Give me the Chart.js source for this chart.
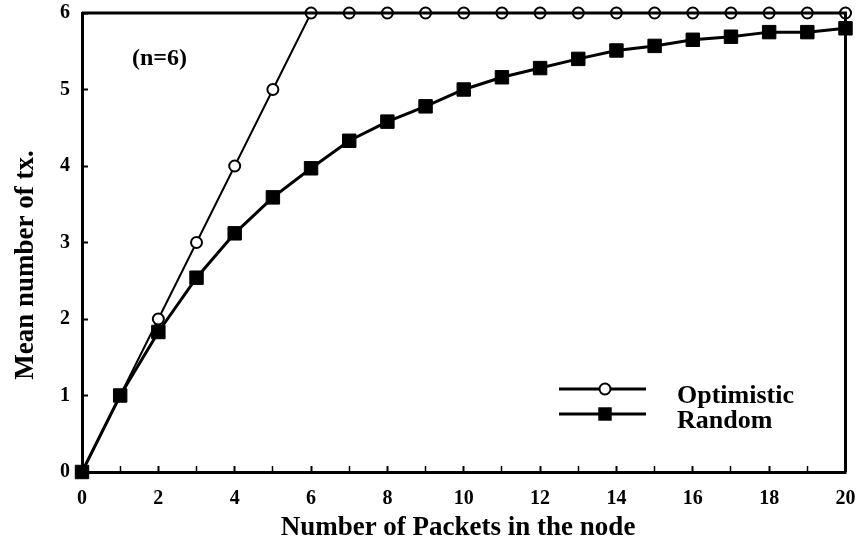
<!DOCTYPE html>
<html>
<head>
<meta charset="utf-8">
<script src="https://cdn.jsdelivr.net/npm/chart.js@4/dist/chart.umd.min.js"></script>
<style>
  html, body { margin: 0; padding: 0; background: #fff; }
  #wrap { width: 856px; height: 552px; }
</style>
</head>
<body>
<div id="wrap"><canvas id="myChart" width="856" height="552"></canvas></div>
<script>
// packets in the node (x) and mean number of transmissions (y)
const packets = [0, 1, 2, 3, 4, 5, 6, 7, 8, 9, 10, 11, 12, 13, 14, 15, 16, 17, 18, 19, 20];
const optimistic = [0, 1, 2, 3, 4, 5, 6, 6, 6, 6, 6, 6, 6, 6, 6, 6, 6, 6, 6, 6, 6];
const random = [0, 1, 1.83, 2.54, 3.12, 3.59, 3.97, 4.33, 4.58, 4.78, 5.0, 5.16, 5.28, 5.4, 5.51, 5.57, 5.65, 5.69, 5.75, 5.75, 5.8];
const seriesNames = ['Optimistic', 'Random'];
const note = '(n=6)';
const xTitle = 'Number of Packets in the node';
const yTitle = 'Mean number of tx.';

const serif = "'Liberation Serif', 'Times New Roman', serif";

function toPoints(ys) {
    return packets.map((p, i) => ({ x: p, y: ys[i] }));
}

/* frame, titles, note and legend */
const decorations = {
    id: 'decorations',
    afterDraw(chart) {
        const ctx = chart.ctx;
        const area = chart.chartArea;
        ctx.save();

        // top and right sides of the box
        ctx.strokeStyle = '#000';
        ctx.lineWidth = 3;
        ctx.beginPath();
        ctx.moveTo(area.left, area.top);
        ctx.lineTo(area.right, area.top);
        ctx.lineTo(area.right, area.bottom);
        ctx.stroke();

        ctx.fillStyle = '#000';
        ctx.font = 'bold 27px ' + serif;
        ctx.textAlign = 'center';
        ctx.textBaseline = 'alphabetic';
        ctx.fillText(xTitle, 458, 535);

        ctx.save();
        ctx.translate(26, 265);
        ctx.rotate(-Math.PI / 2);
        ctx.textBaseline = 'middle';
        ctx.fillText(yTitle, 0, 0);
        ctx.restore();

        ctx.font = 'bold 24px ' + serif;
        ctx.textAlign = 'left';
        ctx.textBaseline = 'middle';
        ctx.fillText(note, 132, 59);

        // legend: line with marker, then name
        const rows = [389, 414];
        chart.data.datasets.forEach((ds, i) => {
            const y = rows[i];
            ctx.strokeStyle = ds.borderColor;
            ctx.lineWidth = 3;
            ctx.beginPath();
            ctx.moveTo(559, y);
            ctx.lineTo(646, y);
            ctx.stroke();
            if (ds.pointStyle === 'circle') {
                ctx.beginPath();
                ctx.arc(605, y, ds.pointRadius, 0, Math.PI * 2);
                ctx.fillStyle = ds.pointBackgroundColor;
                ctx.fill();
                ctx.lineWidth = ds.pointBorderWidth;
                ctx.stroke();
            } else {
                const s = ds.pointRadius * Math.SQRT1_2;
                ctx.fillStyle = ds.pointBackgroundColor;
                ctx.fillRect(605 - s, y - s, 2 * s, 2 * s);
            }
            ctx.fillStyle = '#000';
            ctx.font = 'bold 26px ' + serif;
            ctx.textAlign = 'left';
            ctx.textBaseline = 'alphabetic';
            ctx.fillText(seriesNames[i], 677, y + 14);
        });
        ctx.restore();
    }
};

const data = {
    datasets: [{
        label: seriesNames[0],
        data: toPoints(optimistic),
        borderColor: '#000',
        borderWidth: 2,
        pointStyle: 'circle',
        pointRadius: 5.5,
        pointBorderWidth: 2,
        pointBackgroundColor: '#fff',
        pointBorderColor: '#000',
        clip: false,
        order: 2
    }, {
        label: seriesNames[1],
        data: toPoints(random),
        borderColor: '#000',
        borderWidth: 3,
        pointStyle: 'rect',
        pointRadius: 9.5,
        pointBorderWidth: 1,
        pointBackgroundColor: '#000',
        pointBorderColor: '#000',
        clip: false,
        order: 1
    }]
};

const config = {
    type: 'line',
    data: data,
    options: {
        responsive: false,
        animation: false,
        layout: { padding: { top: 13, right: 7, left: 0, bottom: 0 } },
        plugins: {
            legend: { display: false },
            tooltip: { enabled: false }
        },
        scales: {
            x: {
                type: 'linear',
                min: 0,
                max: 20,
                afterFit: (scale) => {
                    scale.height = 80;
                    scale.paddingLeft = 0;
                    scale.paddingRight = 0;
                },
                ticks: {
                    stepSize: 1,
                    autoSkip: false,
                    maxRotation: 0,
                    padding: 21,
                    color: '#000',
                    font: { family: serif, size: 20, weight: 'bold' },
                    callback: (v) => (v % 2 === 0 ? v : '')
                },
                grid: {
                    drawOnChartArea: false,
                    tickLength: -6,
                    tickColor: '#000',
                    tickWidth: (c) => (c.tick && c.tick.value % 2 === 0 ? 2 : 1.5)
                },
                border: { color: '#000', width: 3 }
            },
            y: {
                min: 0,
                max: 6,
                afterFit: (scale) => {
                    scale.width = 82;
                    scale.paddingTop = 0;
                    scale.paddingBottom = 0;
                },
                ticks: {
                    stepSize: 1,
                    padding: 18,
                    color: '#000',
                    font: { family: serif, size: 20, weight: 'bold' }
                },
                grid: {
                    drawOnChartArea: false,
                    tickLength: -6,
                    tickColor: '#000',
                    tickWidth: 2
                },
                border: { color: '#000', width: 3 }
            }
        }
    },
    plugins: [decorations]
};

const myChart = new Chart(document.getElementById('myChart'), config);
</script>
</body>
</html>
